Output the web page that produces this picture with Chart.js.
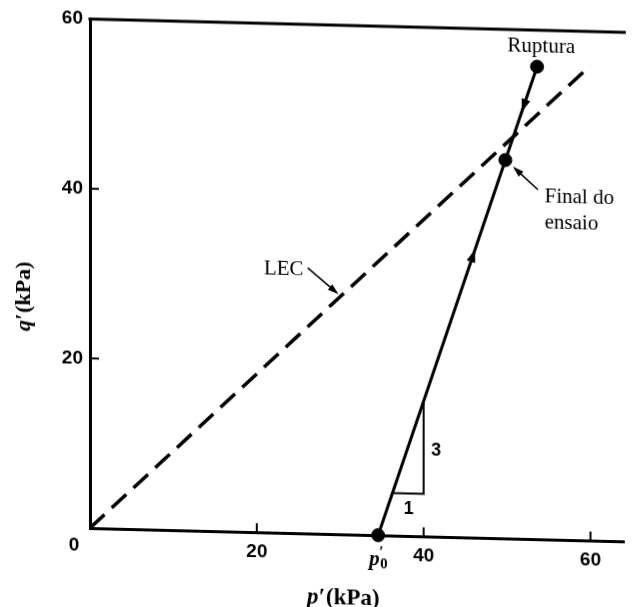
<!DOCTYPE html>
<html>
<head>
<meta charset="utf-8">
<script src="https://cdn.jsdelivr.net/npm/chart.js@4.4.1/dist/chart.umd.min.js"></script>
<style>
  html, body { margin: 0; padding: 0; background: #fff; overflow: hidden; }
  /* the scanned figure is slightly sheared, horizontal lines drop to the right */
  #chart { display: block; transform-origin: 89px 528px; transform: skewY(1.43deg); }
</style>
</head>
<body>
<canvas id="chart" width="632" height="607"></canvas>
<script>
// tick labels
var xTicks = [20, 40, 60];
var yTicks = [20, 40, 60];

// LEC (linha de estado critico)
var lecP = [0, 60];
var lecQ = [0, 56];

// effective stress path, p'0 -> ruptura
var pathP = [34.55, 53.6];
var pathQ = [0, 55.7];

// marked points: p'0, final do ensaio, ruptura
var pointP = [34.55, 49.8, 53.6];
var pointQ = [0, 44.6, 55.7];

// slope triangle 3:1
var triP = [36.26, 40, 40];
var triQ = [5, 5, 15.94];

// direction arrows along the path (1 = going up, -1 = coming back down)
var arrowP = [45.94, 52.0];
var arrowQ = [33.3, 51.0];
var arrowDir = [1, -1];

function toXY(ps, qs) {
    return ps.map(function (p, i) { return { x: p, y: qs[i] }; });
}

var serif = '"Liberation Serif", "Times New Roman", serif';
var sans = '"Liberation Sans", Arial, sans-serif';

function arrowHead(ctx, tx, ty, dx, dy, len, half) {
    var l = Math.sqrt(dx * dx + dy * dy);
    dx /= l; dy /= l;
    ctx.beginPath();
    ctx.moveTo(tx, ty);
    ctx.lineTo(tx - dx * len - dy * half, ty - dy * len + dx * half);
    ctx.lineTo(tx - dx * len + dy * half, ty - dy * len - dx * half);
    ctx.closePath();
    ctx.fill();
}

var annotations = {
    id: 'annotations',
    afterDatasetsDraw: function (chart) {
        var ctx = chart.ctx;
        var a = chart.chartArea;
        var xs = chart.scales.x, ys = chart.scales.y;
        var X = function (v) { return xs.getPixelForValue(v); };
        var Y = function (v) { return ys.getPixelForValue(v); };

        ctx.save();
        ctx.strokeStyle = '#000';
        ctx.fillStyle = '#000';

        // top frame line
        ctx.lineWidth = 3;
        ctx.beginPath();
        ctx.moveTo(a.left - 1.5, a.top);
        ctx.lineTo(a.right + 2, a.top);
        ctx.stroke();

        // ticks point inwards
        ctx.lineWidth = 2;
        xTicks.forEach(function (v) {
            ctx.beginPath();
            ctx.moveTo(X(v), a.bottom);
            ctx.lineTo(X(v), a.bottom - 9);
            ctx.stroke();
        });
        yTicks.forEach(function (v) {
            if (v >= 60) return;
            ctx.beginPath();
            ctx.moveTo(a.left, Y(v));
            ctx.lineTo(a.left + 9, Y(v));
            ctx.stroke();
        });

        // arrows along the stress path
        var dx = X(pathP[1]) - X(pathP[0]);
        var dy = Y(pathQ[1]) - Y(pathQ[0]);
        arrowP.forEach(function (p, i) {
            var s = arrowDir[i];
            var l = Math.sqrt(dx * dx + dy * dy);
            var cx = X(p), cy = Y(arrowQ[i]);
            arrowHead(ctx, cx + s * dx / l * 6, cy + s * dy / l * 6, s * dx, s * dy, 13, 4.5);
        });

        // pointer arrows of the labels
        ctx.lineWidth = 1.6;
        [[26.1, 31.3, 29.8, 28.3], [53.7, 41.2, 50.7, 43.85]].forEach(function (r) {
            var x0 = X(r[0]), y0 = Y(r[1]), x1 = X(r[2]), y1 = Y(r[3]);
            ctx.beginPath();
            ctx.moveTo(x0, y0);
            ctx.lineTo(x1 - (x1 - x0) * 0.15, y1 - (y1 - y0) * 0.15);
            ctx.stroke();
            arrowHead(ctx, x1, y1, x1 - x0, y1 - y0, 11, 3.5);
        });

        // texts
        ctx.font = '21px ' + serif;
        ctx.textBaseline = 'alphabetic';
        ctx.textAlign = 'center';
        ctx.fillText('Ruptura', X(54.1), Y(57.4));
        ctx.textAlign = 'left';
        ctx.fillText('Final do', X(54.5), Y(39.67));
        ctx.fillText('ensaio', X(54.5), Y(36.7));
        ctx.textAlign = 'right';
        ctx.fillText('LEC', X(25.6), Y(30.4));

        ctx.font = 'bold 18px ' + sans;
        ctx.textAlign = 'center';
        ctx.textBaseline = 'middle';
        ctx.fillText('3', X(41.5), Y(10.1));
        ctx.fillText('1', X(38.2), Y(3.2));

        // origin label
        ctx.font = 'bold 19px ' + sans;
        ctx.fillText('0', a.left - 16, a.bottom + 18);

        // p'0 under the axis
        var px = X(pointP[0]);
        ctx.font = 'italic bold 21px ' + serif;
        ctx.textAlign = 'left';
        ctx.textBaseline = 'alphabetic';
        ctx.fillText('p', px - 9, a.bottom + 30);
        ctx.font = 'bold 16px ' + serif;
        ctx.fillText('\u2032', px + 1, a.bottom + 22);
        ctx.font = 'bold 15px ' + serif;
        ctx.fillText('0', px + 2, a.bottom + 33);

        // axis titles
        ctx.font = 'italic bold 23px ' + serif;
        ctx.textAlign = 'left';
        var tx = 307, ty = 598;
        ctx.fillText('p\u2032', tx, ty);
        var w = ctx.measureText('p\u2032').width;
        ctx.font = 'bold 23px ' + serif;
        ctx.fillText('(kPa)', tx + w + 1, ty);

        ctx.translate(30, 298);
        ctx.rotate(-Math.PI / 2);
        ctx.textAlign = 'left';
        ctx.font = 'italic bold 22px ' + serif;
        var lab = 'q\u2032';
        var w1 = ctx.measureText(lab).width;
        ctx.font = 'bold 22px ' + serif;
        var w2 = ctx.measureText('(kPa)').width;
        var sx = -(w1 + w2 + 1) / 2;
        ctx.font = 'italic bold 22px ' + serif;
        ctx.fillText(lab, sx, 0);
        ctx.font = 'bold 22px ' + serif;
        ctx.fillText('(kPa)', sx + w1 + 1, 0);

        ctx.restore();
    }
};

new Chart(document.getElementById('chart'), {
    type: 'scatter',
    data: {
        datasets: [
            {
                // LEC
                data: toXY(lecP, lecQ),
                showLine: true,
                borderColor: '#000',
                borderWidth: 3.5,
                borderDash: [20, 10],
                pointRadius: 0
            },
            {
                data: toXY(pathP, pathQ),
                showLine: true,
                borderColor: '#000',
                borderWidth: 3,
                pointRadius: 0
            },
            {
                data: toXY(triP, triQ),
                showLine: true,
                borderColor: '#000',
                borderWidth: 2,
                pointRadius: 0
            },
            {
                data: toXY(pointP, pointQ),
                showLine: false,
                backgroundColor: '#000',
                borderColor: '#000',
                pointRadius: 6.5,
                clip: false
            }
        ]
    },
    options: {
        responsive: false,
        animation: false,
        devicePixelRatio: 1,
        layout: { padding: { top: 19, right: 1, left: 0, bottom: 0 } },
        plugins: {
            legend: { display: false },
            tooltip: { enabled: false },
            title: { display: false }
        },
        scales: {
            x: {
                type: 'linear',
                min: 0,
                max: 64,
                afterFit: function (scale) { scale.height = 79; },
                grid: { display: false, drawTicks: false },
                border: { display: true, color: '#000', width: 3 },
                ticks: {
                    stepSize: 20,
                    autoSkip: false,
                    maxRotation: 0,
                    padding: 8,
                    color: '#000',
                    font: { family: sans, size: 19, weight: 'bold' },
                    callback: function (v) { return xTicks.indexOf(v) >= 0 ? String(v) : ''; }
                }
            },
            y: {
                type: 'linear',
                min: 0,
                max: 60,
                afterFit: function (scale) { scale.width = 90; },
                grid: { display: false, drawTicks: false },
                border: { display: true, color: '#000', width: 3 },
                ticks: {
                    stepSize: 20,
                    autoSkip: false,
                    padding: 7,
                    color: '#000',
                    font: { family: sans, size: 19, weight: 'bold' },
                    callback: function (v) { return yTicks.indexOf(v) >= 0 ? String(v) : ''; }
                }
            }
        }
    },
    plugins: [annotations]
});
</script>
</body>
</html>
